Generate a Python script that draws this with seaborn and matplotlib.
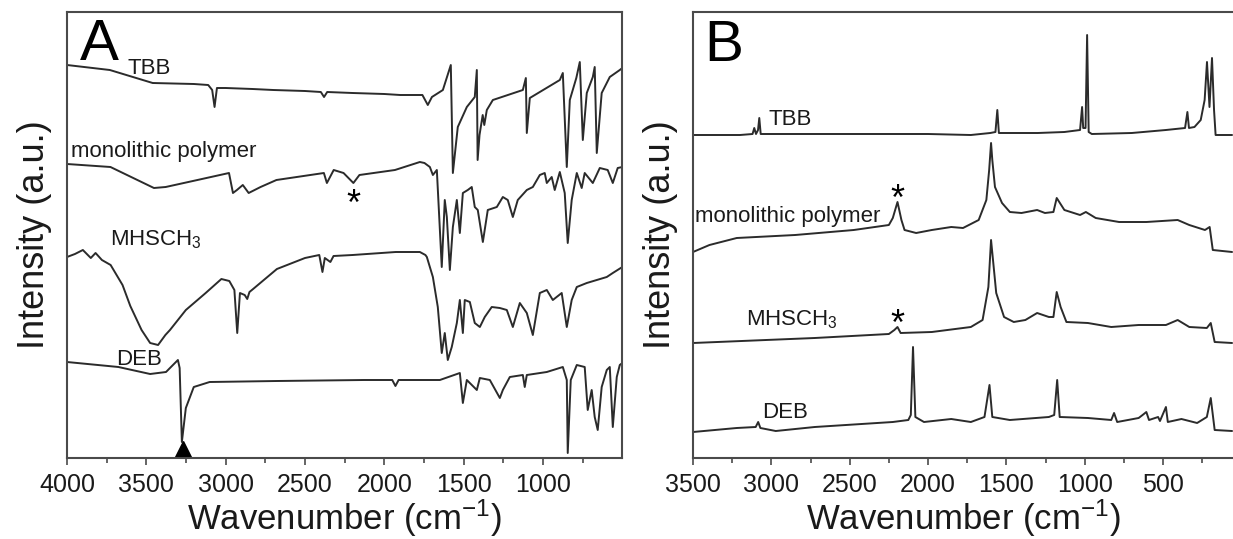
import numpy as np
import pandas as pd
import matplotlib
matplotlib.use("Agg")
import matplotlib.pyplot as plt
from matplotlib.ticker import FixedLocator
import seaborn as sns

# ---------------- data ----------------
# Panel A (FT-IR), wavenumber (cm-1) and intensity (a.u., offset traces)
ir_tbb_wn = [4000, 3730, 3460, 3200, 3110, 3085, 3070, 3055, 3000, 2830, 2700, 2500, 2400, 2380, 2360, 2200, 2000, 1900, 1760, 1726, 1700, 1631, 1581, 1568, 1537, 1480, 1430, 1417, 1412, 1400, 1380, 1370, 1354, 1316, 1127, 1108, 1102, 1083, 894, 875, 850, 831, 790, 768, 749, 724, 686, 674, 661, 630, 579, 516, 500]
ir_tbb_v = [393, 388, 375, 374, 373, 368, 351, 370, 370, 369, 368, 367, 366, 361, 366, 365, 364, 363, 363, 353, 361, 368, 393, 285, 331, 351, 361, 388, 298, 323, 343, 333, 348, 358, 368, 380, 325, 360, 378, 385, 291, 358, 380, 396, 318, 365, 381, 391, 305, 365, 381, 388, 390]

ir_poly_wn = [4000, 3726, 3452, 3378, 3178, 2979, 2954, 2929, 2892, 2855, 2780, 2680, 2381, 2362, 2319, 2257, 2195, 2157, 1933, 1776, 1747, 1713, 1694, 1669, 1638, 1619, 1606, 1587, 1568, 1543, 1524, 1505, 1474, 1449, 1430, 1411, 1379, 1348, 1291, 1253, 1222, 1190, 1159, 1102, 1064, 1020, 989, 976, 945, 926, 894, 863, 844, 819, 787, 756, 737, 686, 642, 592, 560, 529, 500]
ir_poly_v = [294, 291, 270, 271, 278, 285, 265, 268, 273, 265, 271, 278, 285, 275, 288, 285, 275, 283, 288, 296, 295, 291, 283, 288, 191, 258, 241, 188, 231, 258, 225, 265, 268, 271, 251, 248, 216, 248, 251, 261, 258, 241, 258, 268, 271, 283, 285, 275, 281, 268, 286, 265, 215, 258, 285, 270, 285, 275, 290, 288, 275, 290, 291]

ir_mhs_wn = [4000, 3950, 3900, 3850, 3820, 3780, 3725, 3650, 3601, 3530, 3476, 3426, 3380, 3351, 3251, 3126, 3027, 2977, 2945, 2927, 2910, 2880, 2864, 2850, 2827, 2677, 2500, 2410, 2390, 2375, 2340, 2320, 2200, 1928, 1776, 1741, 1732, 1694, 1663, 1638, 1619, 1600, 1575, 1543, 1524, 1505, 1493, 1461, 1430, 1398, 1367, 1323, 1272, 1228, 1190, 1146, 1102, 1064, 1020, 976, 938, 882, 850, 819, 787, 724, 661, 598, 560, 500]
ir_mhs_v = [201, 204, 208, 200, 205, 198, 193, 173, 152, 128, 115, 113, 123, 128, 148, 165, 179, 177, 168, 125, 165, 163, 159, 166, 169, 189, 200, 203, 186, 200, 196, 202, 203, 206, 206, 203, 201, 181, 151, 105, 125, 98, 111, 135, 158, 125, 158, 156, 135, 131, 141, 151, 150, 148, 131, 155, 145, 123, 165, 168, 158, 165, 131, 158, 171, 175, 178, 181, 185, 191]

ir_deb_wn = [4000, 3676, 3476, 3376, 3326, 3301, 3290, 3276, 3251, 3201, 3101, 2677, 2128, 1950, 1930, 1910, 1776, 1650, 1524, 1505, 1480, 1417, 1398, 1335, 1272, 1253, 1209, 1127, 1115, 1102, 976, 875, 850, 844, 825, 787, 737, 718, 693, 674, 655, 630, 598, 579, 560, 535, 516, 500]
ir_deb_v = [96, 91, 84, 86, 94, 98, 90, 16, 50, 71, 76, 77, 78, 78, 72, 78, 78, 78, 85, 55, 78, 68, 80, 78, 60, 68, 81, 83, 71, 83, 86, 91, 78, 5, 78, 93, 91, 48, 68, 41, 28, 71, 88, 91, 31, 81, 93, 95]

# Panel B (Raman)
ra_tbb_wn = [3500, 3200, 3120, 3109, 3098, 3085, 3077, 3068, 3000, 2500, 2000, 1727, 1603, 1570, 1558, 1548, 1300, 1130, 1030, 1017, 1010, 995, 985, 975, 955, 700, 482, 360, 345, 335, 300, 260, 235, 220, 204, 188, 175, 165, 60]
ra_tbb_v = [323, 323, 324, 330, 324, 328, 340, 324, 324, 324, 324, 323, 325, 326, 348, 325, 325, 326, 328, 351, 330, 330, 423, 326, 324, 325, 328, 330, 346, 330, 331, 338, 358, 396, 351, 400, 348, 323, 323]

ra_poly_wn = [3500, 3395, 3221, 2848, 2474, 2250, 2225, 2195, 2170, 2150, 2076, 1976, 1852, 1777, 1677, 1628, 1610, 1598, 1590, 1573, 1528, 1478, 1404, 1304, 1254, 1200, 1179, 1130, 1030, 993, 930, 781, 607, 407, 333, 233, 203, 183, 60]
ra_poly_v = [206, 213, 220, 223, 228, 233, 240, 256, 238, 228, 225, 228, 231, 230, 238, 258, 288, 315, 298, 271, 255, 246, 245, 248, 245, 246, 260, 248, 243, 246, 240, 236, 236, 238, 233, 228, 231, 208, 206]

ra_mhs_wn = [3500, 2723, 2250, 2215, 2195, 2175, 1976, 1727, 1652, 1615, 1598, 1565, 1515, 1453, 1379, 1304, 1229, 1200, 1179, 1154, 1117, 980, 831, 656, 482, 407, 333, 221, 196, 171, 60]
ra_mhs_v = [115, 120, 124, 128, 131, 125, 126, 131, 138, 171, 218, 165, 141, 136, 138, 145, 141, 141, 166, 151, 136, 135, 131, 133, 133, 138, 131, 130, 135, 116, 115]

ra_deb_wn = [3500, 3221, 3100, 3084, 3070, 2972, 2723, 2225, 2126, 2110, 2096, 2081, 2026, 1852, 1727, 1640, 1608, 1590, 1478, 1229, 1195, 1176, 1160, 980, 831, 813, 793, 656, 631, 607, 590, 532, 520, 482, 470, 383, 283, 221, 196, 171, 60]
ra_deb_v = [26, 30, 31, 36, 30, 27, 31, 36, 38, 43, 111, 41, 36, 39, 36, 41, 73, 41, 38, 41, 43, 78, 41, 40, 38, 45, 36, 40, 43, 46, 38, 41, 37, 51, 36, 39, 35, 41, 60, 28, 27]

ir_ticks = [4000, 3500, 3000, 2500, 2000, 1500, 1000]
ra_ticks = [3500, 3000, 2500, 2000, 1500, 1000, 500]

# ---------------- style ----------------
sns.set_theme(style="white")
plt.rcParams["font.family"] = ["Liberation Sans", "DejaVu Sans"]
plt.rcParams["mathtext.fontset"] = "custom"
plt.rcParams["mathtext.rm"] = "Liberation Sans"
plt.rcParams["mathtext.it"] = "Liberation Sans"
plt.rcParams["mathtext.default"] = "regular"

LINE = "#2b2b2b"
SPINE = "#4a4a4a"
TXT = "#1a1a1a"

W, H = 1233, 539
fig = plt.figure(figsize=(W / 100, H / 100), dpi=100)
fig.patch.set_facecolor("white")

axA = fig.add_axes([67 / W, (H - 458) / H, 555 / W, 446 / H])
axB = fig.add_axes([693 / W, (H - 458) / H, 540 / W, 446 / H])


def draw(ax, wn, v):
    df = pd.DataFrame({"wn": wn, "v": v})
    sns.lineplot(data=df, x="wn", y="v", ax=ax, color=LINE, lw=1.4,
                 estimator=None, sort=False, legend=False)


for wn, v in [(ir_tbb_wn, ir_tbb_v), (ir_poly_wn, ir_poly_v),
              (ir_mhs_wn, ir_mhs_v), (ir_deb_wn, ir_deb_v)]:
    draw(axA, wn, v)
for wn, v in [(ra_tbb_wn, ra_tbb_v), (ra_poly_wn, ra_poly_v),
              (ra_mhs_wn, ra_mhs_v), (ra_deb_wn, ra_deb_v)]:
    draw(axB, wn, v)

axA.set_xlim(4000, 502)
axB.set_xlim(3500, 54)
for ax, ticks, lim in [(axA, ir_ticks, (4000, 502)), (axB, ra_ticks, (3500, 54))]:
    ax.set_ylim(0, 446)
    ax.set_yticks([])
    ax.xaxis.set_major_locator(FixedLocator(ticks))
    minors = [t - 250 for t in ticks if t - 250 > lim[1]]
    ax.xaxis.set_minor_locator(FixedLocator(minors))
    ax.tick_params(axis="x", which="major", direction="out", length=5,
                   width=1.2, color=SPINE, labelsize=18, pad=6, labelcolor=TXT,
                   bottom=True)
    ax.tick_params(axis="x", which="minor", direction="out", length=3.5,
                   width=1.2, color=SPINE, bottom=True)
    for s in ax.spines.values():
        s.set_color(SPINE)
        s.set_linewidth(1.5)
    ax.set_xlabel("Wavenumber (cm$^{-1}$)", fontsize=25, color=TXT, labelpad=0)
    ax.set_ylabel("Intensity (a.u.)", fontsize=26, color=TXT, va="center")
    ax.set_facecolor("white")

axB.spines["right"].set_visible(False)
axA.yaxis.set_label_coords((35 - 67) / 555, 0.5)
axB.yaxis.set_label_coords((660 - 693) / 540, 0.5)

lab = dict(fontsize=16, color=TXT, va="baseline", ha="left")
# Panel A labels
axA.text(3918, 398, "A", fontsize=42, color="black", va="baseline", ha="left")
axA.text(3616, 384, "TBB", **lab)
axA.text(3975, 301, "monolithic polymer", **lab)
axA.text(3729, 213, "MHSCH$_3$", **lab)
axA.text(3691, 93, "DEB", **lab)
axA.text(2195, 243, "*", fontsize=26, color="black", va="baseline", ha="center")
axA.plot([3270], [9], marker="^", color="black", markersize=11, ls="none")

# Panel B labels
axB.text(3430, 397, "B", fontsize=42, color="black", va="baseline", ha="left")
axB.text(3021, 333, "TBB", **lab)
axB.text(3490, 236, "monolithic polymer", **lab)
axB.text(2195, 248, "*", fontsize=26, color="black", va="baseline", ha="center")
axB.text(3162, 133, "MHSCH$_3$", **lab)
axB.text(2195, 123, "*", fontsize=26, color="black", va="baseline", ha="center")
axB.text(3060, 40, "DEB", **lab)

fig.savefig("out.png", dpi=100, facecolor="white")
